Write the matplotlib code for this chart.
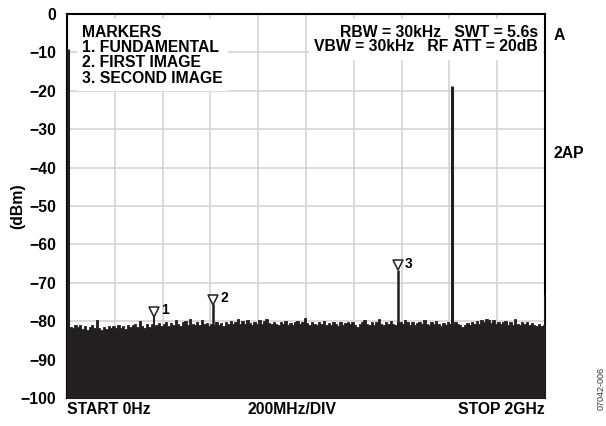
import numpy as np
import matplotlib.pyplot as plt

plt.rcParams['font.family'] = ['Liberation Sans', 'DejaVu Sans']
plt.rcParams['axes.unicode_minus'] = True

# noise floor, one value per 10 MHz bin (0 .. 1990 MHz)
noise_freq = list(range(0, 2000, 10))
noise_dbm = [
    -80.5, -81.4, -81.9, -80.9, -81.6, -81.0, -82.0, -81.3, -82.3, -81.5,
    -81.1, -81.9, -79.8, -81.8, -82.3, -81.4, -82.1, -81.3, -81.9, -81.2,
    -81.7, -81.0, -81.8, -81.2, -82.0, -80.9, -81.6, -81.1, -80.6, -81.5,
    -79.9, -81.2, -81.7, -80.8, -81.4, -80.7, -81.5, -80.9, -80.4, -81.2,
    -80.8, -80.3, -81.3, -80.5, -81.1, -79.6, -80.8, -81.2, -80.2, -79.9,
    -80.9, -79.4, -80.7, -81.1, -80.3, -81.0, -79.8, -80.8, -80.4, -81.2,
    -80.7, -81.1, -80.2, -81.0, -80.4, -81.3, -80.3, -80.8, -79.9, -80.7,
    -80.2, -79.3, -80.6, -80.0, -80.8, -79.7, -80.5, -81.0, -80.1, -80.7,
    -79.8, -80.6, -80.0, -79.4, -80.4, -80.8, -80.1, -80.7, -81.0, -80.3,
    -80.8, -80.0, -80.9, -80.4, -81.1, -80.2, -79.9, -80.7, -80.1, -79.2,
    -80.5, -81.0, -80.1, -80.7, -81.1, -80.2, -80.8, -80.0, -80.9, -80.4,
    -81.0, -80.2, -80.8, -81.2, -80.3, -80.9, -80.5, -80.1, -80.8, -80.3,
    -81.1, -81.4, -80.6, -80.2, -79.7, -80.6, -81.0, -80.1, -80.9, -80.3,
    -79.5, -80.8, -81.1, -80.2, -80.7, -80.0, -80.8, -81.0, -80.3, -80.1,
    -80.6, -79.6, -80.2, -80.9, -80.3, -81.1, -80.5, -80.1, -80.8, -79.8,
    -80.6, -81.0, -80.2, -80.8, -80.0, -80.7, -81.2, -80.4, -80.9, -80.2,
    -80.7, -81.1, -80.3, -80.8, -81.0, -81.4, -80.9, -80.4, -81.1, -80.2,
    -80.8, -80.0, -80.6, -79.6, -80.3, -79.4, -79.8, -80.5, -79.7, -80.7,
    -80.1, -80.8, -80.3, -79.9, -80.9, -80.2, -81.0, -79.5, -80.6, -81.1,
    -80.3, -80.8, -80.2, -81.0, -80.5, -81.1, -81.3, -80.6, -81.2, -80.9,
]

# discrete tones (MHz, dBm)
spur_freq = [3, 364, 611, 1384, 1610, 1998]
spur_dbm = [-9.0, -78.8, -75.6, -66.6, -18.7, -73.2]
spur_width = [2.2, 1.4, 1.8, 1.8, 2.2, 1.4]

# markers: (MHz, dBm, label)
marker_freq = [364, 611, 1384]
marker_dbm = [-78.8, -75.6, -66.6]
marker_label = ['1', '2', '3']

yticks = list(range(0, -101, -10))
ytick_labels = ['0'] + ['\u2212%d' % -v for v in yticks[1:]]

ink = '#231f20'
fs = 11.3

fig = plt.figure(figsize=(6.06, 4.26), dpi=100)
ax = fig.add_axes([67 / 606, 1 - 398 / 426, 478 / 606, 384 / 426])

ax.set_xlim(0, 2000)
ax.set_ylim(-100, 0)
ax.set_xticks(range(0, 2001, 200))
ax.set_xticklabels([])
ax.set_yticks(yticks)
ax.set_yticklabels(ytick_labels, fontsize=fs, fontweight='bold')
ax.tick_params(length=0, pad=8)
ax.grid(True, color='#d4d4d4', lw=1.2)
ax.set_axisbelow(True)
for s in ax.spines.values():
    s.set_linewidth(1.5)
    s.set_color('black')

nf = noise_freq + [2000]
nd = noise_dbm + [noise_dbm[-1]]
ax.fill_between(nf, nd, -100, step='post', color=ink, lw=0.6, edgecolor=ink, zorder=3)
ax.vlines(spur_freq, -100, spur_dbm, colors=ink, lw=spur_width, zorder=4)

for f, d, lab in zip(marker_freq, marker_dbm, marker_label):
    ax.plot(f, d + 1.2, marker='v', ms=6.5, mfc='white', mec=ink, mew=1.1, zorder=5)
    ax.text(f + 30, d + 1.6, lab, fontsize=10, fontweight='bold', va='center', ha='left', zorder=5)

box = dict(facecolor='white', edgecolor='none', pad=4)
ax.text(0.032, 0.972, 'MARKERS\n1. FUNDAMENTAL\n2. FIRST IMAGE\n3. SECOND IMAGE',
        transform=ax.transAxes, ha='left', va='top', fontsize=fs, fontweight='bold',
        linespacing=1.03, bbox=box, zorder=6)
ax.text(0.985, 0.972, 'RBW = 30kHz   SWT = 5.6s\nVBW = 30kHz   RF ATT = 20dB',
        transform=ax.transAxes, ha='right', va='top', fontsize=fs, fontweight='bold',
        linespacing=0.95, bbox=box, zorder=6)

ax.set_ylabel('(dBm)', fontsize=fs, fontweight='bold')
ax.yaxis.set_label_coords(-42 / 478, 0.5)

fig.text(554 / 606, 1 - 35 / 426, 'A', fontsize=fs, fontweight='bold', va='center', ha='left')
fig.text(553 / 606, 1 - 153 / 426, '2AP', fontsize=fs, fontweight='bold', va='center', ha='left')
fig.text(67 / 606, 1 - 409 / 426, 'START 0Hz', fontsize=fs, fontweight='bold', va='center', ha='left')
fig.text(292 / 606, 1 - 409 / 426, '200MHz/DIV', fontsize=fs, fontweight='bold', va='center', ha='center')
fig.text(545 / 606, 1 - 409 / 426, 'STOP 2GHz', fontsize=fs, fontweight='bold', va='center', ha='right')
fig.text(601 / 606, 1 - 388 / 426, '07042-006', fontsize=6.5, rotation=90, va='center', ha='center', color='#333333')

fig.savefig('out.png', dpi=100)
